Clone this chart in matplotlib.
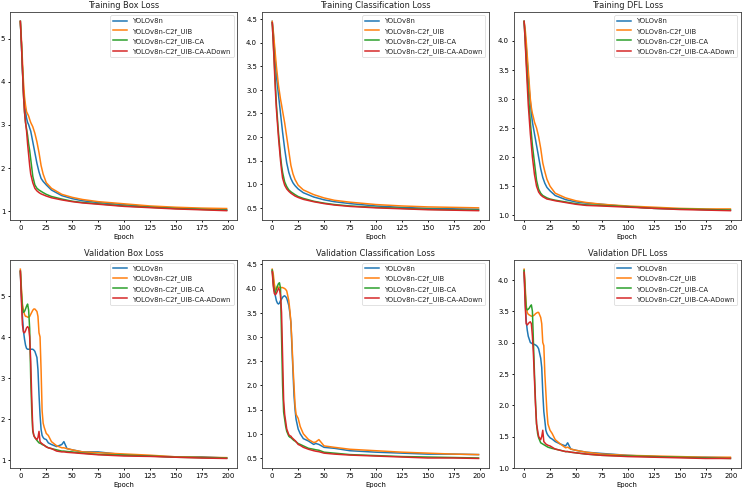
import matplotlib
matplotlib.use("Agg")
import matplotlib.pyplot as plt

models = ["YOLOv8n", "YOLOv8n-C2f_UIB", "YOLOv8n-C2f_UIB-CA", "YOLOv8n-C2f_UIB-CA-ADown"]

# epochs (training panels)
ep_train = [0, 1, 2, 3, 4, 5, 6, 7, 8, 9, 10, 12, 14, 16, 18, 20, 22, 25, 30, 40,
            50, 60, 75, 100, 125, 150, 175, 199]

tbox_v8n = [5.4, 4.9, 4.3, 3.8, 3.5, 3.3, 3.15, 3.05, 3.0, 2.92, 2.85, 2.6, 2.35, 2.1, 1.9, 1.75,
            1.68, 1.6, 1.48, 1.35, 1.28, 1.23, 1.19, 1.14, 1.09, 1.06, 1.04, 1.02]
tbox_uib = [5.4, 5.0, 4.5, 4.0, 3.65, 3.45, 3.3, 3.25, 3.2, 3.12, 3.05, 2.95, 2.8, 2.6, 2.35, 2.05,
            1.85, 1.65, 1.52, 1.38, 1.31, 1.26, 1.21, 1.16, 1.11, 1.08, 1.06, 1.05]
tbox_ca = [5.4, 4.9, 4.3, 3.7, 3.3, 3.05, 2.9, 2.75, 2.55, 2.4, 2.2, 1.8, 1.6, 1.52, 1.48, 1.45,
           1.42, 1.38, 1.33, 1.27, 1.22, 1.19, 1.16, 1.11, 1.08, 1.05, 1.03, 1.01]
tbox_adown = [5.4, 4.9, 4.3, 3.7, 3.3, 3.05, 2.85, 2.55, 2.3, 2.05, 1.85, 1.65, 1.52, 1.46, 1.42, 1.39,
              1.37, 1.34, 1.30, 1.25, 1.21, 1.18, 1.15, 1.10, 1.07, 1.04, 1.02, 1.00]

tcls_v8n = [4.45, 4.2, 3.9, 3.6, 3.3, 3.1, 2.9, 2.7, 2.5, 2.3, 2.1, 1.75, 1.45, 1.25, 1.12, 1.03,
            0.97, 0.9, 0.82, 0.73, 0.67, 0.63, 0.59, 0.54, 0.51, 0.49, 0.48, 0.47]
tcls_uib = [4.45, 4.25, 4.0, 3.75, 3.5, 3.3, 3.1, 2.95, 2.8, 2.68, 2.55, 2.3, 2.0, 1.7, 1.4, 1.22,
            1.1, 0.98, 0.88, 0.78, 0.71, 0.66, 0.62, 0.57, 0.54, 0.52, 0.51, 0.50]
tcls_ca = [4.42, 4.0, 3.6, 3.15, 2.7, 2.4, 2.1, 1.85, 1.6, 1.4, 1.25, 1.05, 0.95, 0.88, 0.84, 0.81,
           0.78, 0.74, 0.70, 0.64, 0.60, 0.57, 0.54, 0.51, 0.49, 0.47, 0.46, 0.45]
tcls_adown = [4.42, 4.0, 3.5, 3.0, 2.6, 2.3, 2.0, 1.75, 1.5, 1.3, 1.13, 0.98, 0.9, 0.85, 0.81, 0.78,
              0.75, 0.72, 0.68, 0.63, 0.59, 0.56, 0.53, 0.50, 0.48, 0.46, 0.45, 0.44]

tdfl_v8n = [4.33, 4.1, 3.9, 3.65, 3.4, 3.15, 2.95, 2.75, 2.6, 2.5, 2.4, 2.2, 2.0, 1.8, 1.65, 1.55,
            1.48, 1.42, 1.34, 1.27, 1.23, 1.21, 1.19, 1.15, 1.12, 1.11, 1.10, 1.09]
tdfl_uib = [4.33, 4.2, 4.0, 3.75, 3.5, 3.25, 3.0, 2.85, 2.75, 2.68, 2.6, 2.5, 2.35, 2.15, 1.9, 1.75,
            1.62, 1.5, 1.38, 1.3, 1.25, 1.22, 1.19, 1.16, 1.14, 1.12, 1.11, 1.11]
tdfl_ca = [4.33, 4.0, 3.7, 3.4, 3.1, 2.85, 2.6, 2.4, 2.2, 2.05, 1.9, 1.6, 1.45, 1.38, 1.34, 1.32,
           1.30, 1.28, 1.26, 1.23, 1.20, 1.18, 1.17, 1.15, 1.12, 1.11, 1.10, 1.09]
tdfl_adown = [4.33, 4.0, 3.6, 3.25, 2.9, 2.65, 2.4, 2.2, 2.0, 1.85, 1.7, 1.5, 1.4, 1.35, 1.32, 1.30,
              1.28, 1.27, 1.25, 1.22, 1.19, 1.17, 1.16, 1.14, 1.12, 1.10, 1.09, 1.08]

# epochs (validation panels)
ep_val = [0, 1, 2, 3, 4, 5, 6, 7, 8, 9, 10, 11, 12, 13, 14, 16, 17, 18, 19, 20, 21, 22, 23, 25,
          27, 30, 35, 40, 42, 45, 50, 60, 75, 100, 125, 150, 175, 199]

vbox_v8n = [5.6, 5.0, 4.5, 4.15, 3.95, 3.8, 3.72, 3.7, 3.7, 3.7, 3.7, 3.7, 3.7, 3.68, 3.65, 3.5,
            3.2, 2.6, 2.1, 1.75, 1.6, 1.55, 1.52, 1.5, 1.42, 1.38, 1.33, 1.38, 1.45, 1.28, 1.25,
            1.2, 1.2, 1.13, 1.1, 1.08, 1.08, 1.05]
vbox_uib = [5.65, 5.2, 4.8, 4.65, 4.55, 4.5, 4.5, 4.48, 4.48, 4.5, 4.55, 4.6, 4.65, 4.68, 4.68, 4.62,
            4.5, 4.1, 4.0, 3.2, 2.2, 1.9, 1.8, 1.65, 1.6, 1.45, 1.35, 1.3, 1.3, 1.28, 1.25,
            1.2, 1.18, 1.15, 1.12, 1.08, 1.07, 1.06]
vbox_ca = [5.6, 5.1, 4.7, 4.6, 4.62, 4.68, 4.75, 4.8, 4.65, 4.2, 3.0, 2.2, 1.7, 1.6, 1.55, 1.48,
           1.45, 1.42, 1.41, 1.4, 1.38, 1.37, 1.36, 1.33, 1.3, 1.28, 1.25, 1.22, 1.22, 1.21, 1.2,
           1.17, 1.14, 1.12, 1.1, 1.07, 1.06, 1.05]
vbox_adown = [5.6, 4.9, 4.3, 4.12, 4.1, 4.15, 4.22, 4.25, 4.22, 4.0, 3.4, 2.5, 1.75, 1.6, 1.55, 1.5,
              1.55, 1.7, 1.45, 1.42, 1.4, 1.38, 1.36, 1.32, 1.3, 1.28, 1.22, 1.2, 1.2, 1.19, 1.18,
              1.16, 1.13, 1.1, 1.09, 1.07, 1.05, 1.04]

vcls_v8n = [4.38, 4.2, 4.0, 3.85, 3.75, 3.7, 3.68, 3.7, 3.75, 3.78, 3.82, 3.84, 3.85, 3.83, 3.8, 3.65,
            3.5, 3.3, 2.8, 2.3, 1.8, 1.5, 1.3, 1.1, 1.0, 0.9, 0.85, 0.78, 0.8, 0.78, 0.72,
            0.7, 0.65, 0.62, 0.6, 0.58, 0.58, 0.57]
vcls_uib = [4.4, 4.3, 4.1, 3.98, 4.0, 4.05, 4.02, 4.02, 4.02, 4.02, 4.02, 4.01, 4.0, 3.98, 3.95, 3.75,
            3.55, 3.3, 2.9, 2.4, 2.0, 1.6, 1.4, 1.32, 1.15, 1.0, 0.88, 0.82, 0.83, 0.88, 0.75,
            0.72, 0.68, 0.65, 0.62, 0.6, 0.58, 0.57]
vcls_ca = [4.38, 4.1, 3.95, 3.92, 3.98, 4.05, 4.1, 4.12, 4.0, 3.0, 2.0, 1.45, 1.3, 1.15, 1.05, 0.95,
           0.93, 0.92, 0.9, 0.88, 0.86, 0.85, 0.83, 0.8, 0.78, 0.75, 0.7, 0.68, 0.67, 0.66, 0.62,
           0.6, 0.57, 0.55, 0.53, 0.52, 0.51, 0.5]
vcls_adown = [4.35, 4.05, 3.9, 3.87, 3.9, 3.95, 4.0, 3.98, 3.85, 3.5, 2.6, 1.7, 1.4, 1.25, 1.1, 0.98,
              0.96, 0.95, 0.92, 0.9, 0.88, 0.86, 0.84, 0.78, 0.76, 0.72, 0.68, 0.65, 0.64, 0.63, 0.6,
              0.58, 0.56, 0.54, 0.52, 0.5, 0.5, 0.49]

vdfl_v8n = [4.15, 3.7, 3.35, 3.2, 3.1, 3.05, 3.0, 2.99, 2.98, 2.97, 2.97, 2.96, 2.95, 2.93, 2.9, 2.75,
            2.6, 2.2, 1.9, 1.75, 1.6, 1.55, 1.52, 1.48, 1.46, 1.42, 1.38, 1.35, 1.4, 1.3, 1.28,
            1.25, 1.23, 1.2, 1.18, 1.17, 1.17, 1.16]
vdfl_uib = [4.17, 3.9, 3.6, 3.48, 3.45, 3.44, 3.43, 3.42, 3.42, 3.43, 3.44, 3.46, 3.47, 3.48, 3.48, 3.4,
            3.3, 3.0, 2.95, 2.5, 2.2, 1.9, 1.7, 1.6, 1.55, 1.45, 1.38, 1.32, 1.33, 1.3, 1.28,
            1.25, 1.22, 1.2, 1.19, 1.18, 1.17, 1.17]
vdfl_ca = [4.15, 3.8, 3.55, 3.52, 3.53, 3.55, 3.58, 3.6, 3.5, 3.0, 2.5, 2.05, 1.7, 1.55, 1.48, 1.4,
           1.39, 1.38, 1.37, 1.36, 1.35, 1.34, 1.33, 1.32, 1.31, 1.3, 1.28, 1.26, 1.26, 1.25, 1.24,
           1.22, 1.2, 1.19, 1.18, 1.17, 1.16, 1.15]
vdfl_adown = [4.12, 3.6, 3.3, 3.28, 3.3, 3.32, 3.33, 3.3, 3.1, 2.8, 2.4, 2.0, 1.7, 1.6, 1.5, 1.45,
              1.5, 1.6, 1.42, 1.4, 1.38, 1.37, 1.36, 1.35, 1.33, 1.3, 1.28, 1.26, 1.26, 1.25, 1.24,
              1.22, 1.2, 1.18, 1.17, 1.16, 1.15, 1.15]

panels = [
    ("Training Box Loss", ep_train, [tbox_v8n, tbox_uib, tbox_ca, tbox_adown]),
    ("Training Classification Loss", ep_train, [tcls_v8n, tcls_uib, tcls_ca, tcls_adown]),
    ("Training DFL Loss", ep_train, [tdfl_v8n, tdfl_uib, tdfl_ca, tdfl_adown]),
    ("Validation Box Loss", ep_val, [vbox_v8n, vbox_uib, vbox_ca, vbox_adown]),
    ("Validation Classification Loss", ep_val, [vcls_v8n, vcls_uib, vcls_ca, vcls_adown]),
    ("Validation DFL Loss", ep_val, [vdfl_v8n, vdfl_uib, vdfl_ca, vdfl_adown]),
]

plt.rcParams["axes.linewidth"] = 1.3
plt.rcParams["xtick.major.width"] = 1.3
plt.rcParams["ytick.major.width"] = 1.3
plt.rcParams["axes.edgecolor"] = "#444444"
plt.rcParams["text.color"] = "#222222"

fig, axes = plt.subplots(2, 3, figsize=(15, 9.9), dpi=49.53)
for ax, (title, ep, series) in zip(axes.flat, panels):
    for name, vals in zip(models, series):
        ax.plot(ep, vals, label=name, lw=2.2)
    ax.set_title(title)
    ax.set_xlabel("Epoch")
    ax.set_xticks(range(0, 201, 25))
    ax.legend(loc="upper right")

fig.subplots_adjust(left=0.0135, right=0.997, top=0.975, bottom=0.045, wspace=0.11, hspace=0.19)
fig.savefig("out.png", dpi=49.53)
